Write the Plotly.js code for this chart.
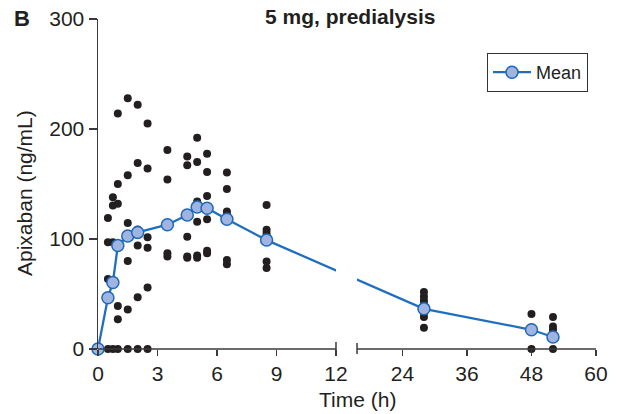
<!DOCTYPE html>
<html>
<head>
<meta charset="utf-8">
<script src="https://cdn.plot.ly/plotly-3.0.1.min.js"></script>
<style>html,body{margin:0;padding:0;background:#fff;}#chart{width:627px;height:414px;}</style>
</head>
<body>
<div id="chart"></div>
<script>
// ---- data ----
const sampleTimes = [0, 0.5, 0.75, 1, 1.5, 2, 2.5, 3.5, 4.5, 5, 5.5, 6.5, 8.5, 28, 48, 52];
const subjectValues = [
  [0],
  [0, 63.6, 97, 119],
  [0, 97, 130.5, 138],
  [0, 27, 39, 132, 150, 214],
  [0, 36, 80, 114.5, 158, 228],
  [0, 47, 94, 108.7, 169, 222],
  [0, 56, 92, 101.5, 164, 205],
  [84, 87, 154, 181],
  [83, 84, 102, 167, 175],
  [83, 85, 115.7, 134, 170, 192],
  [87, 89.4, 118, 139, 161, 177.5],
  [77, 81, 122, 125, 145.5, 160.5],
  [73.6, 79.6, 102.4, 105.5, 108.5, 131],
  [19.4, 29.1, 32.7, 36.5, 40.9, 44.2, 47.8, 51.8],
  [0, 17.5, 19.6, 31.8],
  [0, 17.5, 20.5, 29]
];
const meanTimes = [0, 0.5, 0.75, 1, 1.5, 2, 3.5, 4.5, 5, 5.5, 6.5, 8.5, 28, 48, 52];
const meanValues = [0, 46.6, 60.5, 94, 102.7, 106, 113, 121.8, 129, 128, 118, 99, 36.5, 17.5, 10.9];
const xTickHours = [0, 3, 6, 9, 12, 24, 36, 48, 60];
const yTickValues = [0, 100, 200, 300];

// ---- broken time axis: 0-12 h on the left, compressed scale on the right ----
const LEFT_END = 12;          // hours
const RIGHT_START_U = 13.06;  // axis units where the right segment begins
const RIGHT_REF_H = 24, RIGHT_REF_U = 15.35, RIGHT_SCALE = 0.2711;
const X_MAX_U = 25.11;
function u(t) { return t <= LEFT_END ? t : RIGHT_REF_U + (t - RIGHT_REF_H) * RIGHT_SCALE; }

const dotX = [], dotY = [];
sampleTimes.forEach((t, i) => subjectValues[i].forEach(v => { dotX.push(u(t)); dotY.push(v); }));

const FONT = 'Liberation Sans, Arial, Helvetica, sans-serif';
const INK = '#231f20';
const AX = '#3a3a3a';

const traces = [
  {
    x: dotX, y: dotY, type: 'scatter', mode: 'markers', showlegend: false,
    cliponaxis: false, hoverinfo: 'skip',
    marker: { color: INK, size: 8 }
  },
  {
    x: meanTimes.map(u), y: meanValues, type: 'scatter', mode: 'lines+markers', name: 'Mean',
    cliponaxis: false,
    line: { color: '#1f6fc0', width: 2.3 },
    marker: { color: '#a0b4e2', size: 12, line: { color: '#1f68b8', width: 1.5 } }
  }
];

const PH = 330; // plot height in px
const shapes = [
  // white gap over the break
  { type: 'rect', xref: 'x', yref: 'paper', x0: u(LEFT_END), x1: RIGHT_START_U, y0: 0.006, y1: 1.0,
    fillcolor: '#ffffff', line: { width: 0 }, layer: 'above' },
  // axis segments
  { type: 'line', xref: 'x', yref: 'paper', x0: 0, x1: u(LEFT_END), y0: 0, y1: 0, line: { color: AX, width: 1.5 }, layer: 'above' },
  { type: 'line', xref: 'x', yref: 'paper', x0: RIGHT_START_U, x1: X_MAX_U, y0: 0, y1: 0, line: { color: AX, width: 1.5 }, layer: 'above' },
  // break marks
  { type: 'line', xref: 'x', yref: 'paper', x0: u(LEFT_END), x1: u(LEFT_END), y0: -5 / PH, y1: 7 / PH, line: { color: AX, width: 1.5 }, layer: 'above' },
  { type: 'line', xref: 'x', yref: 'paper', x0: RIGHT_START_U, x1: RIGHT_START_U, y0: -5 / PH, y1: 6 / PH, line: { color: AX, width: 1.5 }, layer: 'above' }
];

const px = x => (x - 98) / 498;
const py = y => (349 - y) / PH;

const layout = {
  width: 627, height: 414,
  margin: { l: 98, r: 31, t: 19, b: 65, pad: 0 },
  paper_bgcolor: '#ffffff', plot_bgcolor: '#ffffff',
  font: { family: FONT, color: INK, size: 20 },
  showlegend: true,
  legend: {
    x: px(588), xanchor: 'right', y: py(53), yanchor: 'top',
    bgcolor: '#ffffff', bordercolor: '#333333', borderwidth: 1,
    font: { family: FONT, size: 18, color: INK }, itemwidth: 38
  },
  xaxis: {
    range: [0, X_MAX_U], showline: false, zeroline: false, showgrid: false,
    tickmode: 'array', tickvals: xTickHours.map(u), ticktext: xTickHours.map(String),
    ticks: 'outside', ticklen: 6, tickwidth: 1.5, tickcolor: AX,
    tickfont: { family: FONT, size: 21, color: INK }, fixedrange: true
  },
  yaxis: {
    range: [0, 300], showline: true, linecolor: AX, linewidth: 1.5, zeroline: false, showgrid: false,
    tickmode: 'array', tickvals: yTickValues, ticktext: yTickValues.map(String),
    ticks: 'outside', ticklen: 8, tickwidth: 1.5, tickcolor: AX,
    tickfont: { family: FONT, size: 21, color: INK }, fixedrange: true
  },
  shapes: shapes,
  annotations: [
    { text: '<b>B</b>', xref: 'paper', yref: 'paper', x: px(22), y: py(18), xanchor: 'center', yanchor: 'middle',
      showarrow: false, font: { family: FONT, size: 22, color: INK } },
    { text: '<b>5 mg, predialysis</b>', xref: 'paper', yref: 'paper', x: px(350), y: py(17), xanchor: 'center', yanchor: 'middle',
      showarrow: false, font: { family: FONT, size: 21, color: INK } },
    { text: 'Time (h)', xref: 'paper', yref: 'paper', x: px(357), y: py(399), xanchor: 'center', yanchor: 'middle',
      showarrow: false, font: { family: FONT, size: 21, color: INK } },
    { text: 'Apixaban (ng/mL)', xref: 'paper', yref: 'paper', x: px(24), y: py(193), xanchor: 'center', yanchor: 'middle',
      textangle: -90, showarrow: false, font: { family: FONT, size: 21, color: INK } }
  ]
};

Plotly.newPlot('chart', traces, layout, { displayModeBar: false, staticPlot: true });
</script>
</body>
</html>
